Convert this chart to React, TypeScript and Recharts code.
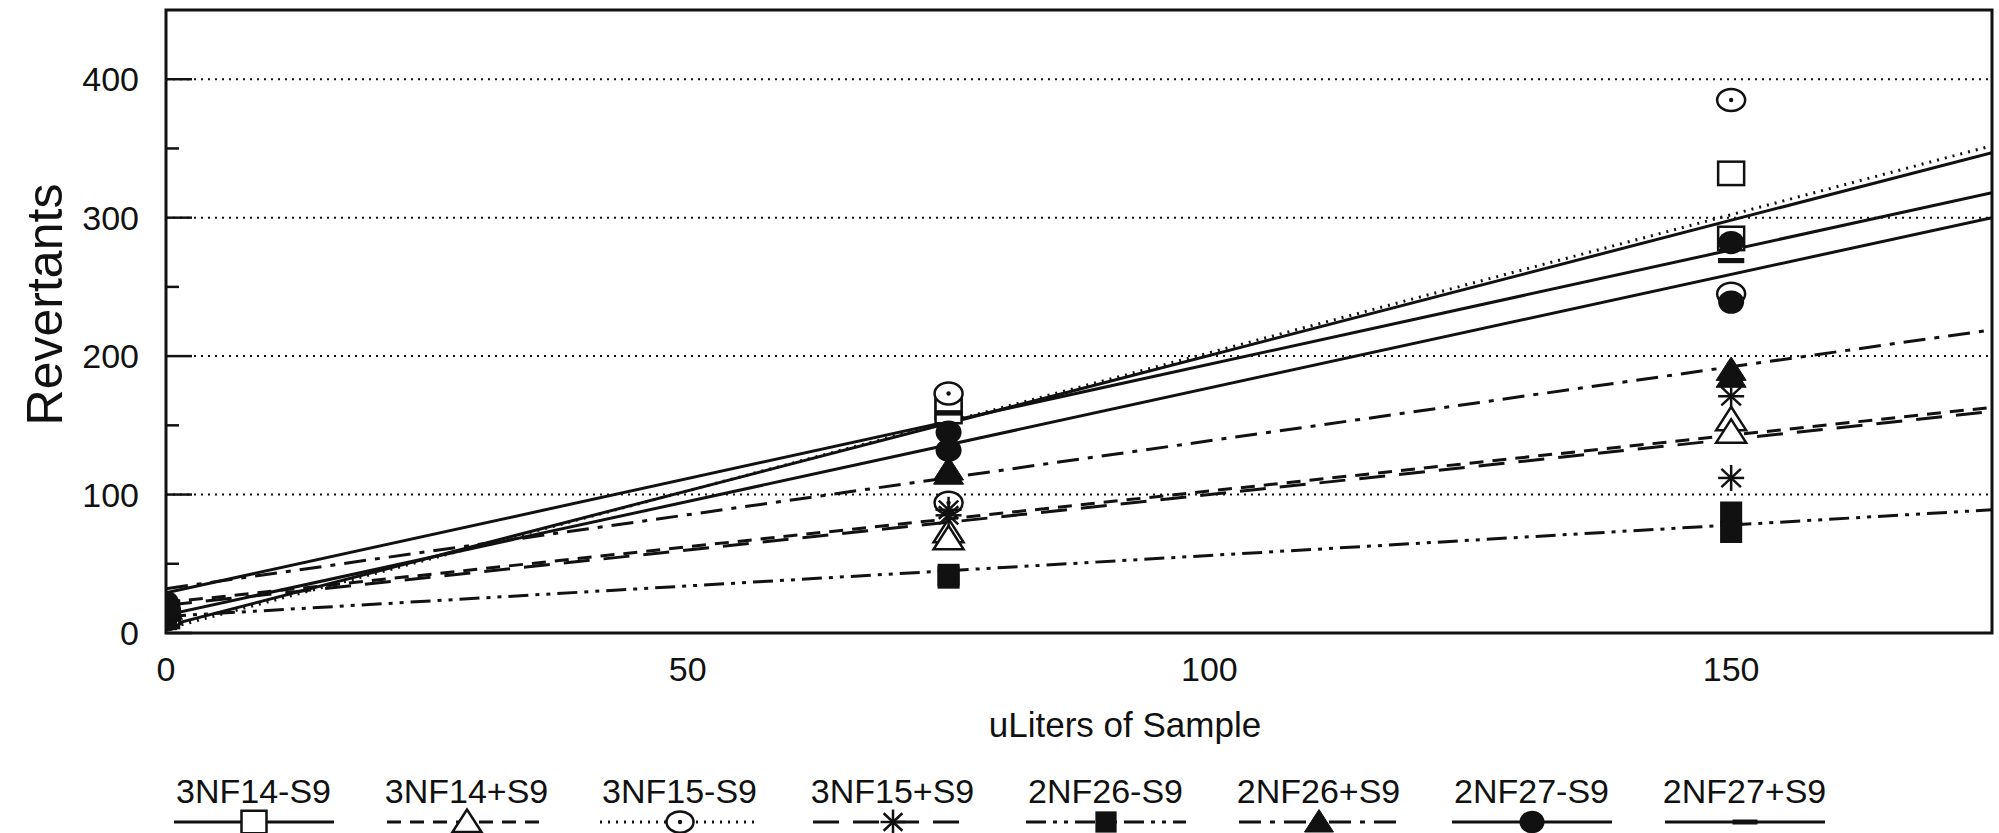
import React from "react";
import {
  ComposedChart,
  Line,
  Scatter,
  XAxis,
  YAxis,
  ReferenceLine,
  ReferenceArea,
  Label,
} from "recharts";

// doses (uL), two plates per dose
const DOSES = [0, 0, 75, 75, 150, 150];
const FIT_X = [0, 175];

// revertant counts
const PTS_3NF14_M = [15, 12, 163, 160, 332, 285];
const PTS_3NF14_P = [14, 18, 73, 68, 154, 145];
const PTS_3NF15_M = [16, 10, 173, 94, 385, 245];
const PTS_3NF15_P = [18, 12, 89, 85, 171, 112];
const PTS_2NF26_M = [12, 10, 40, 42, 87, 73];
const PTS_2NF26_P = [20, 16, 118, 115, 190, 185];
const PTS_2NF27_M = [22, 17, 145, 132, 282, 239];
const PTS_2NF27_P = [14, 14, 159, 159, 269, 269];

// regression line ends at x = 0 and x = 175
const FIT_3NF14_M = [5, 347];
const FIT_3NF14_P = [22, 163];
const FIT_3NF15_M = [3, 352];
const FIT_3NF15_P = [20, 160];
const FIT_2NF26_M = [12, 89];
const FIT_2NF26_P = [32, 219];
const FIT_2NF27_M = [29, 318];
const FIT_2NF27_P = [13, 300];

const Y_TICKS = [0, 50, 100, 150, 200, 250, 300, 350, 400];
const X_TICKS = [0, 50, 100, 150];
const GRID_VALUES = [100, 200, 300, 400];

const INK = "#111";
const FONT = "'Liberation Sans', Arial, Helvetica, sans-serif";

type Kind =
  | "square"
  | "triangle"
  | "circleDot"
  | "asterisk"
  | "filledSquare"
  | "filledTriangle"
  | "filledCircle"
  | "bar";

const SERIES: { name: string; kind: Kind; dash?: string; pts: number[]; fit: number[] }[] = [
  { name: "3NF14-S9", kind: "square", pts: PTS_3NF14_M, fit: FIT_3NF14_M },
  { name: "3NF14+S9", kind: "triangle", dash: "14 9", pts: PTS_3NF14_P, fit: FIT_3NF14_P },
  { name: "3NF15-S9", kind: "circleDot", dash: "2 6", pts: PTS_3NF15_M, fit: FIT_3NF15_M },
  { name: "3NF15+S9", kind: "asterisk", dash: "26 14", pts: PTS_3NF15_P, fit: FIT_3NF15_P },
  { name: "2NF26-S9", kind: "filledSquare", dash: "20 7 4 7 4 7", pts: PTS_2NF26_M, fit: FIT_2NF26_M },
  { name: "2NF26+S9", kind: "filledTriangle", dash: "22 9 5 9", pts: PTS_2NF26_P, fit: FIT_2NF26_P },
  { name: "2NF27-S9", kind: "filledCircle", pts: PTS_2NF27_M, fit: FIT_2NF27_M },
  { name: "2NF27+S9", kind: "bar", pts: PTS_2NF27_P, fit: FIT_2NF27_P },
];

function Marker({ kind, cx, cy, s = 26 }: { kind: Kind; cx: number; cy: number; s?: number }) {
  const h = s / 2;
  const sw = 2.5;
  switch (kind) {
    case "square":
      return <rect x={cx - h} y={cy - h * 0.9} width={s} height={s * 0.9} fill="#fff" stroke={INK} strokeWidth={sw} />;
    case "triangle":
      return (
        <polygon
          points={`${cx - h - 2},${cy + h * 0.8} ${cx + h + 2},${cy + h * 0.8} ${cx},${cy - h}`}
          fill="#fff"
          stroke={INK}
          strokeWidth={sw}
        />
      );
    case "circleDot":
      return (
        <g>
          <ellipse cx={cx} cy={cy} rx={h + 1} ry={h * 0.85} fill="#fff" stroke={INK} strokeWidth={sw} />
          <circle cx={cx} cy={cy} r={2.2} fill={INK} />
        </g>
      );
    case "asterisk":
      return (
        <g stroke={INK} strokeWidth={2.5}>
          <line x1={cx - h} y1={cy} x2={cx + h} y2={cy} />
          <line x1={cx} y1={cy - h} x2={cx} y2={cy + h} />
          <line x1={cx - h * 0.75} y1={cy - h * 0.7} x2={cx + h * 0.75} y2={cy + h * 0.7} />
          <line x1={cx - h * 0.75} y1={cy + h * 0.7} x2={cx + h * 0.75} y2={cy - h * 0.7} />
        </g>
      );
    case "filledSquare":
      return <rect x={cx - h * 0.85} y={cy - h * 0.85} width={s * 0.85} height={s * 0.85} fill={INK} />;
    case "filledTriangle":
      return (
        <polygon
          points={`${cx - h - 2},${cy + h * 0.8} ${cx + h + 2},${cy + h * 0.8} ${cx},${cy - h}`}
          fill={INK}
          stroke={INK}
          strokeWidth={1}
        />
      );
    case "filledCircle":
      return <ellipse cx={cx} cy={cy} rx={h} ry={h * 0.9} fill={INK} />;
    case "bar":
      return <rect x={cx - h} y={cy - 2.5} width={s} height={5} fill={INK} />;
  }
}

const YTick = (props: any) => {
  const { x, y, payload } = props;
  const axisX = x + 27;
  const major = payload.value % 100 === 0;
  return (
    <g>
      <line x1={axisX} x2={axisX + (major ? 26 : 13)} y1={y} y2={y} stroke={INK} strokeWidth={2.5} />
      {major && (
        <text x={x} y={y} dy="0.36em" textAnchor="end" fontSize={34} fontFamily={FONT} fill={INK}>
          {payload.value}
        </text>
      )}
    </g>
  );
};

function LegendRow() {
  return (
    <div
      style={{
        position: "absolute",
        left: 147,
        top: 772,
        display: "flex",
        fontFamily: FONT,
        color: INK,
      }}
    >
      {SERIES.map((s) => (
        <div key={s.name} style={{ width: 213, display: "flex", flexDirection: "column", alignItems: "center" }}>
          <div style={{ fontSize: 34, lineHeight: "38px", whiteSpace: "nowrap" }}>{s.name}</div>
          <svg width={170} height={30} style={{ overflow: "visible" }}>
            <line x1={5} x2={165} y1={12} y2={12} stroke={INK} strokeWidth={3} strokeDasharray={s.dash} />
            <Marker kind={s.kind} cx={85} cy={12} s={25} />
          </svg>
        </div>
      ))}
    </div>
  );
}

export default function App() {
  return (
    <div style={{ position: "absolute", left: 0, top: 0, width: 1999, height: 833, background: "#fff" }}>
      <ComposedChart width={1999} height={833} margin={{ top: 10, right: 7, left: 0, bottom: 0 }}>
        <XAxis
          type="number"
          dataKey="x"
          domain={[0, 175]}
          ticks={X_TICKS}
          allowDataOverflow
          height={200}
          axisLine={false}
          tickLine={false}
          tickSize={0}
          tickMargin={24}
          tick={{ fontSize: 34, fontFamily: FONT, fill: INK }}
        >
          <Label
            content={(p: any) => {
              const vb = p.viewBox;
              return (
                <text
                  x={vb.x + vb.width / 2 + 46}
                  y={vb.y + 104}
                  textAnchor="middle"
                  fontSize={35}
                  fontFamily={FONT}
                  fill={INK}
                >
                  uLiters of Sample
                </text>
              );
            }}
          />
        </XAxis>
        <YAxis
          type="number"
          dataKey="y"
          domain={[0, 450]}
          ticks={Y_TICKS}
          allowDataOverflow
          width={166}
          axisLine={false}
          tickLine={false}
          tickSize={0}
          tickMargin={27}
          tick={<YTick />}
          interval={0}
        >
          <Label
            content={(p: any) => {
              const vb = p.viewBox;
              const cx = vb.x + 45;
              const cy = vb.y + vb.height / 2 - 17;
              return (
                <text
                  x={cx}
                  y={cy}
                  transform={`rotate(-90 ${cx} ${cy})`}
                  textAnchor="middle"
                  dominantBaseline="central"
                  fontSize={50}
                  fontFamily={FONT}
                  fill={INK}
                >
                  Revertants
                </text>
              );
            }}
          />
        </YAxis>

        {GRID_VALUES.map((v) => (
          <ReferenceLine key={v} y={v} stroke={INK} strokeWidth={2} strokeDasharray="2 5" />
        ))}

        {SERIES.map((s) => (
          <Line
            key={`fit-${s.name}`}
            data={FIT_X.map((x, i) => ({ x, y: s.fit[i] }))}
            dataKey="y"
            type="linear"
            stroke={INK}
            strokeWidth={3}
            strokeDasharray={s.dash}
            dot={false}
            activeDot={false}
            isAnimationActive={false}
          />
        ))}

        {SERIES.map((s) => (
          <Scatter
            key={`pts-${s.name}`}
            name={s.name}
            data={DOSES.map((x, i) => ({ x, y: s.pts[i] }))}
            dataKey="y"
            isAnimationActive={false}
            shape={(p: any) => <Marker kind={s.kind} cx={p.cx} cy={p.cy} />}
          />
        ))}

        <ReferenceArea x1={0} x2={175} y1={0} y2={450} fill="none" stroke={INK} strokeWidth={3} ifOverflow="visible" />
      </ComposedChart>
      <LegendRow />
    </div>
  );
}
